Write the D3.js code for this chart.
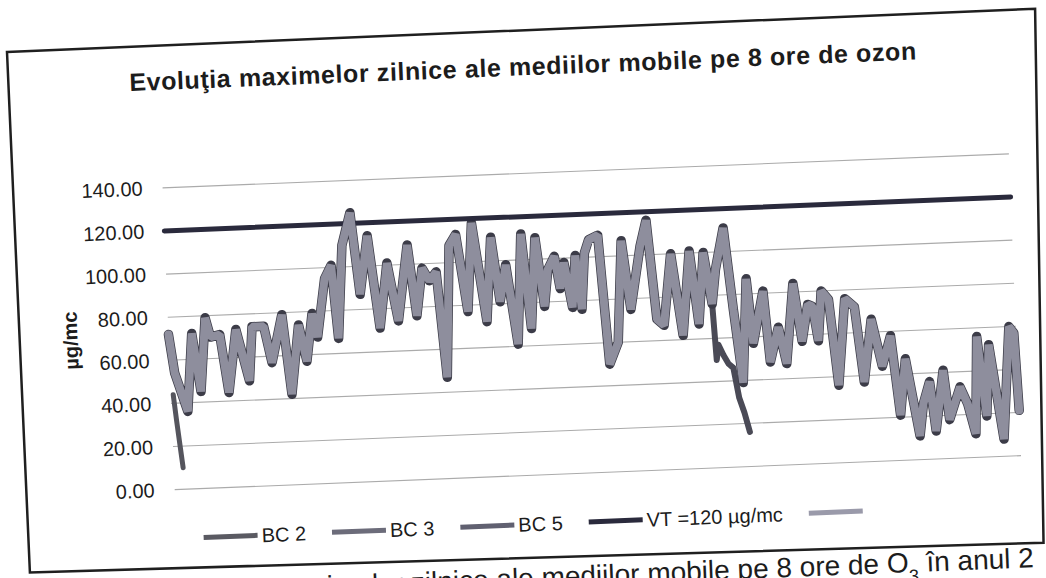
<!DOCTYPE html>
<html lang="ro">
<head>
<meta charset="UTF-8">
<script src="https://cdn.jsdelivr.net/npm/d3@7"></script>
<title>Evoluţia maximelor zilnice ale mediilor mobile pe 8 ore de ozon</title>
<style>
html, body {
    margin: 0;
    padding: 0;
    background: #fff;
}
svg {
    display: block;
}
text {
    font-family: 'Liberation Sans', Arial, sans-serif;
    fill: #1c1c1c;
}
</style>
</head>
<body>
<svg id="canvas"></svg>
<script>
// values: [day of year, µg/mc] at the turning points of each line
let fifthPoints = [
    [0,72],[2,54],[7,36],[10,72],[13,45],[16,79],[18,70],[22,71],[25,44],[29,73],
    [34,49],[36,74],[41,74],[44,57],[49,79],[52,42],[56,74],[59,57],[62,79],[64,68],
    [68,95],[71,101],[73,67],[76,110],[80,125],[83,87],[87,114],[91,71],[95,101],[99,74],
    [104,109],[107,76],[110,98],[113,92],[116,96],[119,47],[122,108],[125,113],[129,77],[132,118],
    [137,72],[140,111],[143,81],[146,98],[150,61],[153,112],[156,68],[159,110],[162,78],[164,95],
    [167,101],[169,86],[171,98],[174,77],[176,101],[178,76],[180,102],[182,108],[186,110],[189,50],
    [193,60],[196,107],[199,75],[204,104],[207,116],[210,70],[213,67],[217,100],[221,62],[225,101],
    [228,67],[231,100],[234,76],[236,92],[240,111],[243,73],[246,39],[249,87],[251,57],[256,81],
    [258,48],[262,64],[265,47],[269,84],[272,57],[275,74],[277,73],[279,57],[281,80],[284,76],
    [287,36],[291,76],[295,72],[298,37],[302,66],[306,44],[310,58],[313,21],[316,47],[321,11],
    [323,26],[326,36],[328,13],[332,41],[334,18],[339,33],[342,25],[345,11],[347,56],[350,19],
    [352,52],[357,8],[361,60],[363,57],[364,21]
]
// BC 5 runs under the light line for the whole year (only its tips show)
let bc5Points = fifthPoints
// BC 2 only has the first few days
let bc2Points = [[1,44],[2,32],[3,21],[4,10]]
// BC 3 follows the others, then falls away and stops
let bc3Tail = [[235,50],[236,57],[238,52],[240,48],[242,46],[244,32],[246,25],[248,16]]
let vtValue = 120

let seriesNames = ['BC 2', 'BC 3', 'BC 5', 'VT =120 µg/mc', '']
let yTicks = [0, 20, 40, 60, 80, 100, 120, 140]

let width = 1046
let height = 578

let svg = d3.select('#canvas')
    .attr('width', width)
    .attr('height', height)

svg.append('rect')
    .attr('width', width)
    .attr('height', height)
    .attr('fill', '#fff')

// the page was scanned a little crooked
let page = svg.append('g')
    .attr('transform', 'translate(7,52) rotate(-2.3)')

// chart frame, slightly out of square on the scan
page.append('path')
    .attr('d', 'M0,0 L1029,-2 L1016,532 L2,521 Z')
    .attr('fill', 'none')
    .attr('stroke', '#1f1f1f')
    .attr('stroke-width', 2.5)

page.append('text')
    .attr('x', 515)
    .attr('y', 44)
    .attr('text-anchor', 'middle')
    .style('font-size', '25px')
    .style('font-weight', 'bold')
    .style('letter-spacing', '0.6px')
    .text('Evoluţia maximelor zilnice ale mediilor mobile pe 8 ore de ozon')

let xScale = d3.scaleLinear()
    .domain([0, 364])
    .range([150, 997])

let yScale = d3.scaleLinear()
    .domain([0, 140])
    .range([444, 142])

page.append('g')
    .selectAll('line')
    .data(yTicks)
    .enter()
    .append('line')
    .attr('x1', xScale(0))
    .attr('x2', xScale(364))
    .attr('y1', (d) => yScale(d))
    .attr('y2', (d) => yScale(d))
    .attr('stroke', '#ababab')
    .attr('stroke-width', 1.1)

let yAxis = d3.axisLeft(yScale)
    .tickValues(yTicks)
    .tickFormat(d3.format('.2f'))
    .tickSize(0)
    .tickPadding(20)

let yAxisG = page.append('g')
    .attr('transform', 'translate(' + xScale(0) + ',0)')
    .call(yAxis)
yAxisG.select('.domain').remove()
yAxisG.selectAll('text')
    .style('font-family', "'Liberation Sans', Arial, sans-serif")
    .style('font-size', '20px')
    .attr('fill', '#2a2a2a')

page.append('text')
    .attr('transform', 'translate(52,291) rotate(-90)')
    .attr('text-anchor', 'middle')
    .attr('dy', '0.35em')
    .style('font-size', '20px')
    .style('font-weight', 'bold')
    .text('µg/mc')

let line = d3.line()
    .x((d) => xScale(d[0]))
    .y((d) => yScale(d[1]))

let bc3Points = fifthPoints.filter((d) => d[0] <= 234).concat(bc3Tail)
let vtPoints = [[0, vtValue], [364, vtValue]]

let styles = [
    { color: '#55555d', width: 5, join: 'round' },
    { color: '#4a4a56', width: 6, join: 'round' },
    { color: '#3c3c48', width: 9.5, join: 'round' },
    { color: '#2a2a3c', width: 5, join: 'round' },
    { color: '#8e8e9d', width: 8, join: 'bevel' }
]
let seriesData = [bc2Points, bc3Points, bc5Points, vtPoints, fifthPoints]

seriesData.forEach((pts, i) => {
    page.append('path')
        .datum(pts)
        .attr('d', line)
        .attr('fill', 'none')
        .attr('stroke', styles[i].color)
        .attr('stroke-width', styles[i].width)
        .attr('stroke-linejoin', styles[i].join)
        .attr('stroke-linecap', 'round')
})

// legend
let legendColors = ['#5a5a62', '#6c6c7a', '#606070', '#2a2a3c', '#9a9aaa']
let legendG = page.append('g')
    .attr('transform', 'translate(0,493)')
let lx = 177
seriesNames.forEach((name, i) => {
    let item = legendG.append('g')
        .attr('transform', 'translate(' + lx + ',0)')
    item.append('line')
        .attr('x1', 0)
        .attr('x2', 54)
        .attr('y1', 0)
        .attr('y2', 0)
        .attr('stroke', legendColors[i])
        .attr('stroke-width', 5)
    let t = item.append('text')
        .attr('x', 58)
        .attr('y', 7)
        .style('font-size', '20px')
        .attr('fill', '#2a2a2a')
        .text(name)
    lx += 58 + t.node().getComputedTextLength() + 26
})

// caption under the chart, cut by the edge of the scan
let caption = page.append('text')
    .attr('x', 138)
    .attr('y', 556)
    .style('font-size', '28px')
caption.append('tspan').text('Evoluţia maximelor zilnice ale mediilor mobile pe 8 ore de O')
caption.append('tspan')
    .attr('baseline-shift', 'sub')
    .style('font-size', '18px')
    .text('3')
caption.append('tspan').text(' în anul 2')
</script>
</body>
</html>
